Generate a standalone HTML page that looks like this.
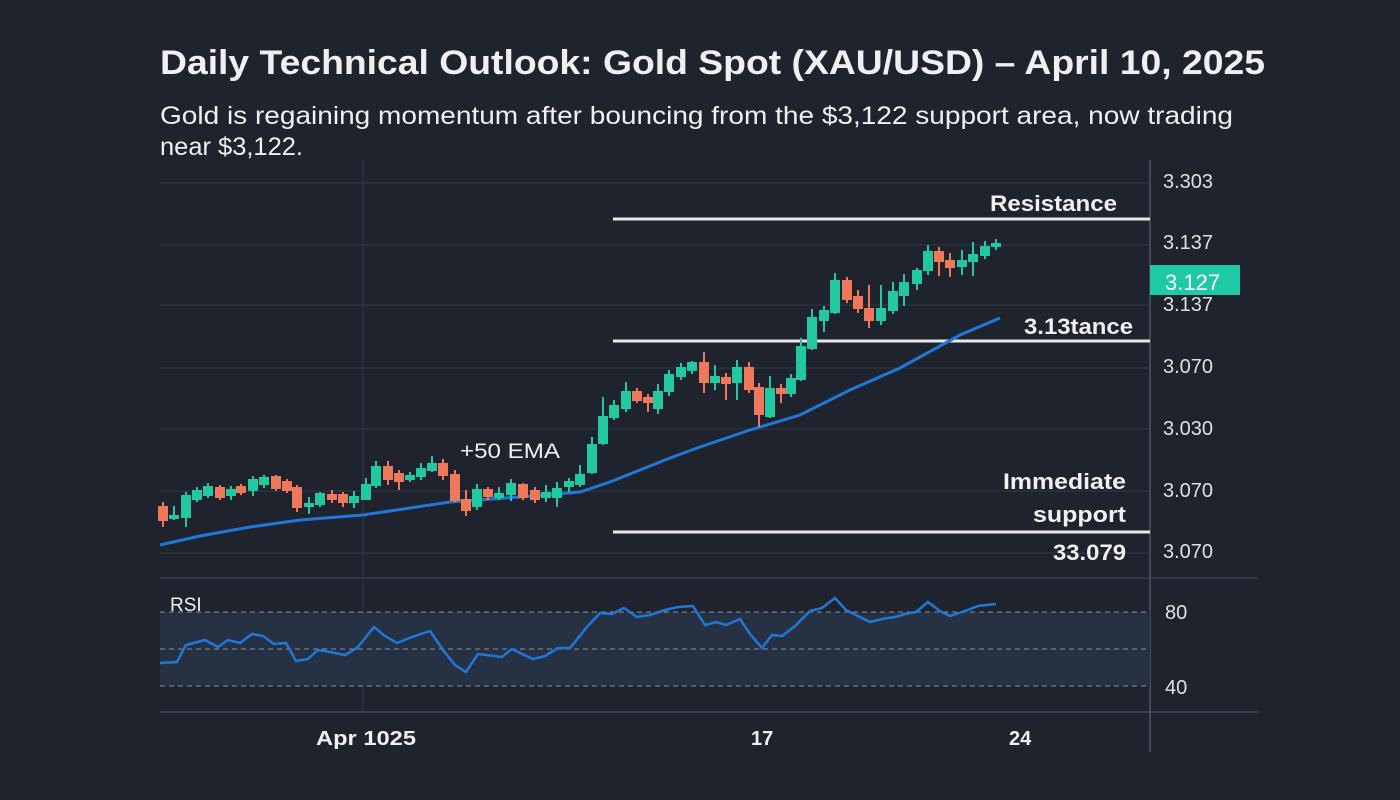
<!DOCTYPE html>
<html><head><meta charset="utf-8"><style>
html,body{margin:0;padding:0;background:#1f232e;}
body{width:1400px;height:800px;overflow:hidden;position:relative;font-family:"Liberation Sans",sans-serif;}
</style></head><body>
<svg width="1400" height="800" viewBox="0 0 1400 800" style="position:absolute;left:0;top:0">
<rect width="1400" height="800" fill="#1f232e"/>
<g stroke="#2e3442" stroke-width="1.2">
<line x1="160" y1="183" x2="1150" y2="183"/><line x1="160" y1="245" x2="1150" y2="245"/>
<line x1="160" y1="305" x2="1150" y2="305"/><line x1="160" y1="368" x2="1150" y2="368"/>
<line x1="160" y1="429" x2="1150" y2="429"/><line x1="160" y1="491" x2="1150" y2="491"/>
<line x1="160" y1="553" x2="1150" y2="553"/>
<line x1="363" y1="160" x2="363" y2="712"/>
</g>
<line x1="160" y1="578" x2="1258" y2="578" stroke="#3a4050" stroke-width="1.2"/>
<line x1="160" y1="712" x2="1258" y2="712" stroke="#4a5060" stroke-width="1.2"/>
<line x1="1150" y1="160" x2="1150" y2="752" stroke="#5a6070" stroke-width="1.2"/>
<rect x="160" y="612" width="990" height="74" fill="#263244"/>
<g stroke="#8a909c" stroke-width="1" stroke-dasharray="5,4">
<line x1="160" y1="612" x2="1150" y2="612"/><line x1="160" y1="649" x2="1150" y2="649"/><line x1="160" y1="686" x2="1150" y2="686"/>
</g>
<g stroke="#e8e8e8" stroke-width="3">
<line x1="613" y1="219" x2="1150" y2="219"/><line x1="613" y1="341" x2="1150" y2="341"/><line x1="613" y1="532" x2="1150" y2="532"/>
</g>
<polyline fill="none" stroke="#1f78d8" stroke-width="3" points="160,545 200,536 250,527 300,520 363,515 450,502 520,497 580,492 610,482 640,470 670,458 700,447 750,430 800,415 850,390 900,368 960,335 1000,318"/>
<g stroke-width="2">
<g fill="#f0785a" stroke="#f0785a">
<line x1="163" y1="502" x2="163" y2="527"/><rect x="159" y="507" width="8" height="13"/>
<line x1="220" y1="485" x2="220" y2="500"/><rect x="216" y="488" width="8" height="9"/>
<line x1="241" y1="484" x2="241" y2="495"/><rect x="237" y="487" width="8" height="5"/>
<line x1="276" y1="475" x2="276" y2="491"/><rect x="272" y="477" width="8" height="11"/>
<line x1="287" y1="479" x2="287" y2="493"/><rect x="283" y="482" width="8" height="8"/>
<line x1="297" y1="485" x2="297" y2="512"/><rect x="293" y="488" width="8" height="19"/>
<line x1="332" y1="490" x2="332" y2="503"/><rect x="328" y="495" width="8" height="4"/>
<line x1="343" y1="492" x2="343" y2="507"/><rect x="339" y="495" width="8" height="7"/>
<line x1="388" y1="461" x2="388" y2="485"/><rect x="384" y="467" width="8" height="12"/>
<line x1="399" y1="470" x2="399" y2="490"/><rect x="395" y="474" width="8" height="7"/>
<line x1="443" y1="459" x2="443" y2="480"/><rect x="439" y="464" width="8" height="11"/>
<line x1="455" y1="470" x2="455" y2="502"/><rect x="451" y="475" width="8" height="25"/>
<line x1="466" y1="490" x2="466" y2="516"/><rect x="462" y="500" width="8" height="10"/>
<line x1="488" y1="487" x2="488" y2="500"/><rect x="484" y="490" width="8" height="6"/>
<line x1="523" y1="483" x2="523" y2="500"/><rect x="519" y="485" width="8" height="12"/>
<line x1="535" y1="487" x2="535" y2="503"/><rect x="531" y="491" width="8" height="8"/>
<line x1="637" y1="388" x2="637" y2="403"/><rect x="633" y="392" width="8" height="8"/>
<line x1="648" y1="394" x2="648" y2="412"/><rect x="644" y="398" width="8" height="4"/>
<line x1="704" y1="352" x2="704" y2="393"/><rect x="700" y="363" width="8" height="19"/>
<line x1="726" y1="373" x2="726" y2="400"/><rect x="722" y="378" width="8" height="5"/>
<line x1="749" y1="362" x2="749" y2="393"/><rect x="745" y="368" width="8" height="21"/>
<line x1="759" y1="383" x2="759" y2="427"/><rect x="755" y="388" width="8" height="26"/>
<line x1="781" y1="384" x2="781" y2="403"/><rect x="777" y="389" width="8" height="4"/>
<line x1="847" y1="277" x2="847" y2="303"/><rect x="843" y="281" width="8" height="18"/>
<line x1="858" y1="290" x2="858" y2="313"/><rect x="854" y="297" width="8" height="11"/>
<line x1="869" y1="285" x2="869" y2="328"/><rect x="865" y="309" width="8" height="11"/>
<line x1="939" y1="247" x2="939" y2="276"/><rect x="935" y="252" width="8" height="9"/>
<line x1="950" y1="253" x2="950" y2="277"/><rect x="946" y="261" width="8" height="6"/>
</g>
<g fill="#22c9a0" stroke="#22c9a0">
<line x1="174" y1="506" x2="174" y2="520"/><rect x="170" y="516" width="8" height="2"/>
<line x1="186" y1="492" x2="186" y2="527"/><rect x="182" y="496" width="8" height="21"/>
<line x1="197" y1="487" x2="197" y2="502"/><rect x="193" y="491" width="8" height="8"/>
<line x1="208" y1="483" x2="208" y2="498"/><rect x="204" y="487" width="8" height="8"/>
<line x1="231" y1="486" x2="231" y2="500"/><rect x="227" y="490" width="8" height="5"/>
<line x1="253" y1="476" x2="253" y2="496"/><rect x="249" y="480" width="8" height="10"/>
<line x1="264" y1="475" x2="264" y2="488"/><rect x="260" y="478" width="8" height="6"/>
<line x1="309" y1="497" x2="309" y2="514"/><rect x="305" y="504" width="8" height="2"/>
<line x1="320" y1="492" x2="320" y2="507"/><rect x="316" y="494" width="8" height="10"/>
<line x1="354" y1="491" x2="354" y2="508"/><rect x="350" y="497" width="8" height="5"/>
<line x1="366" y1="478" x2="366" y2="500"/><rect x="362" y="485" width="8" height="14"/>
<line x1="376" y1="461" x2="376" y2="488"/><rect x="372" y="467" width="8" height="18"/>
<line x1="410" y1="472" x2="410" y2="482"/><rect x="406" y="476" width="8" height="3"/>
<line x1="421" y1="463" x2="421" y2="480"/><rect x="417" y="469" width="8" height="7"/>
<line x1="432" y1="456" x2="432" y2="472"/><rect x="428" y="464" width="8" height="6"/>
<line x1="477" y1="484" x2="477" y2="510"/><rect x="473" y="490" width="8" height="16"/>
<line x1="499" y1="487" x2="499" y2="500"/><rect x="495" y="494" width="8" height="3"/>
<line x1="511" y1="479" x2="511" y2="501"/><rect x="507" y="484" width="8" height="10"/>
<line x1="546" y1="485" x2="546" y2="502"/><rect x="542" y="493" width="8" height="4"/>
<line x1="557" y1="482" x2="557" y2="507"/><rect x="553" y="489" width="8" height="8"/>
<line x1="569" y1="478" x2="569" y2="492"/><rect x="565" y="482" width="8" height="4"/>
<line x1="580" y1="465" x2="580" y2="487"/><rect x="576" y="475" width="8" height="9"/>
<line x1="592" y1="437" x2="592" y2="474"/><rect x="588" y="445" width="8" height="27"/>
<line x1="603" y1="397" x2="603" y2="445"/><rect x="599" y="417" width="8" height="26"/>
<line x1="614" y1="400" x2="614" y2="420"/><rect x="610" y="406" width="8" height="11"/>
<line x1="626" y1="382" x2="626" y2="412"/><rect x="622" y="392" width="8" height="16"/>
<line x1="658" y1="384" x2="658" y2="414"/><rect x="654" y="392" width="8" height="16"/>
<line x1="669" y1="370" x2="669" y2="396"/><rect x="665" y="375" width="8" height="16"/>
<line x1="681" y1="363" x2="681" y2="380"/><rect x="677" y="368" width="8" height="8"/>
<line x1="692" y1="361" x2="692" y2="374"/><rect x="688" y="363" width="8" height="7"/>
<line x1="715" y1="365" x2="715" y2="390"/><rect x="711" y="377" width="8" height="5"/>
<line x1="737" y1="360" x2="737" y2="400"/><rect x="733" y="368" width="8" height="14"/>
<line x1="770" y1="376" x2="770" y2="418"/><rect x="766" y="389" width="8" height="27"/>
<line x1="791" y1="374" x2="791" y2="397"/><rect x="787" y="379" width="8" height="14"/>
<line x1="801" y1="338" x2="801" y2="381"/><rect x="797" y="347" width="8" height="32"/>
<line x1="812" y1="309" x2="812" y2="350"/><rect x="808" y="318" width="8" height="30"/>
<line x1="824" y1="306" x2="824" y2="332"/><rect x="820" y="311" width="8" height="9"/>
<line x1="835" y1="273" x2="835" y2="314"/><rect x="831" y="281" width="8" height="31"/>
<line x1="881" y1="285" x2="881" y2="325"/><rect x="877" y="309" width="8" height="11"/>
<line x1="893" y1="282" x2="893" y2="314"/><rect x="889" y="292" width="8" height="18"/>
<line x1="904" y1="274" x2="904" y2="306"/><rect x="900" y="283" width="8" height="12"/>
<line x1="917" y1="268" x2="917" y2="290"/><rect x="913" y="271" width="8" height="12"/>
<line x1="928" y1="245" x2="928" y2="275"/><rect x="924" y="252" width="8" height="18"/>
<line x1="962" y1="250" x2="962" y2="275"/><rect x="958" y="261" width="8" height="5"/>
<line x1="973" y1="242" x2="973" y2="276"/><rect x="969" y="255" width="8" height="6"/>
<line x1="985" y1="241" x2="985" y2="259"/><rect x="981" y="247" width="8" height="8"/>
<line x1="996" y1="239" x2="996" y2="250"/><rect x="992" y="244" width="8" height="2"/>
</g>
</g>
<polyline fill="none" stroke="#1f78d8" stroke-width="2.5" points="160,663 177,662 186,645 205,640 218,647 228,640 240,643 252,634 263,636 274,644 286,643 296,661 308,659 318,650 330,652 345,655 357,648 374,627 385,636 397,643 412,637 430,631 443,650 455,665 466,672 478,654 502,657 512,649 522,654 533,659 545,656 558,648 570,648 587,627 600,613 612,614 624,608 637,617 650,615 665,610 678,607 693,606 705,625 716,622 726,625 740,619 750,634 762,648 772,635 782,636 795,626 810,611 822,608 835,598 846,610 858,616 870,622 882,619 895,617 905,614 916,612 928,602 940,611 950,616 965,611 978,606 996,604"/>
<rect x="1150" y="265" width="90" height="30" fill="#1fc9a6"/>
<g font-family="Liberation Sans, sans-serif" fill="#f0f0f0">
<text x="160" y="74" font-size="34" font-weight="bold" textLength="1105" lengthAdjust="spacingAndGlyphs">Daily Technical Outlook: Gold Spot (XAU/USD) – April 10, 2025</text>
<text x="160" y="124" font-size="25" textLength="1073" lengthAdjust="spacingAndGlyphs">Gold is regaining momentum after bouncing from the $3,122 support area, now trading</text>
<text x="160" y="155" font-size="25" textLength="143" lengthAdjust="spacingAndGlyphs">near $3,122.</text>
<g font-size="20" fill="#e0e0e0">
<text x="1163" y="188">3.303</text><text x="1163" y="249">3.137</text><text x="1163" y="311">3.137</text>
<text x="1163" y="373">3.070</text><text x="1163" y="435">3.030</text><text x="1163" y="497">3.070</text>
<text x="1163" y="558">3.070</text><text x="1165" y="619">80</text><text x="1165" y="694">40</text>
</g>
<text x="1165" y="290" font-size="22" fill="#ffffff">3.127</text>
<g font-size="22" font-weight="bold">
<text x="990" y="211" textLength="127" lengthAdjust="spacingAndGlyphs">Resistance</text>
<text x="1024" y="334" textLength="109" lengthAdjust="spacingAndGlyphs">3.13tance</text>
<text x="1003" y="489" textLength="123" lengthAdjust="spacingAndGlyphs">Immediate</text>
<text x="1033" y="522" textLength="93" lengthAdjust="spacingAndGlyphs">support</text>
<text x="1053" y="560" textLength="73" lengthAdjust="spacingAndGlyphs">33.079</text>
</g>
<text x="460" y="458" font-size="21" textLength="100" lengthAdjust="spacingAndGlyphs">+50 EMA</text>
<text x="170" y="611" font-size="19">RSI</text>
<g font-size="20" font-weight="bold">
<text x="316" y="745" textLength="100" lengthAdjust="spacingAndGlyphs">Apr 1025</text>
<text x="751" y="745">17</text><text x="1009" y="745">24</text>
</g>
</g>
</svg>
</body></html>
